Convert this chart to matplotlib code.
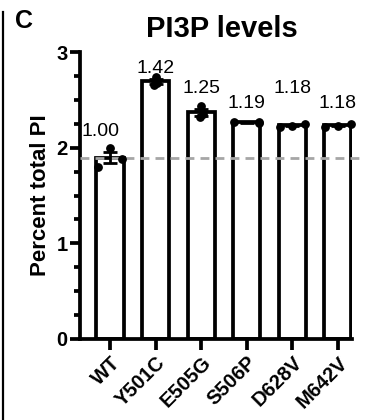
import matplotlib
matplotlib.use("Agg")
import matplotlib.pyplot as plt
import numpy as np
from matplotlib.lines import Line2D
from matplotlib.ticker import MultipleLocator

plt.rcParams['font.family'] = ['Liberation Sans', 'DejaVu Sans']

categories = ["WT", "Y501C", "E505G", "S506P", "D628V", "M642V"]
points = [
    [1.80, 2.00, 1.88],
    [2.66, 2.74, 2.68],
    [2.32, 2.44, 2.35],
    [2.27, 2.26, 2.27],
    [2.22, 2.23, 2.25],
    [2.22, 2.23, 2.25],
]
fold_labels = ["1.00", "1.42", "1.25", "1.19", "1.18", "1.18"]
wt_mean_line = 1.89

fig = plt.figure(figsize=(3.67, 4.2), dpi=100)
ax = fig.add_axes([0.218, 0.193, 0.741, 0.683])

x = np.arange(len(categories))
means = [np.mean(p) for p in points]
sems = [np.std(p, ddof=1) / np.sqrt(len(p)) for p in points]
lw = 2.7
bw = 0.6

ax.bar(x, means, width=bw, color='white', edgecolor='black', linewidth=lw, zorder=2)
ax.errorbar(x, means, yerr=sems, fmt='none', ecolor='black', elinewidth=2.0,
            capsize=5, capthick=2.0, zorder=4)
offsets = [
    [-0.27, 0.0, 0.27],
    [-0.03, 0.0, 0.03],
    [-0.03, 0.0, 0.03],
    [-0.28, 0.28, 0.28],
    [-0.28, 0.0, 0.28],
    [-0.28, 0.0, 0.28],
]
for i, p in enumerate(points):
    ax.scatter(x[i] + np.array(offsets[i]), p, s=28, color='black', zorder=5, clip_on=False)

ax.axhline(wt_mean_line, color='#a6a6a6', linestyle=(0, (3.2, 2.2)), linewidth=2.0, zorder=3,
           xmax=1.03, clip_on=False)

label_y = [2.08, 2.74, 2.53, 2.37, 2.53, 2.37]
label_dx = [-0.2, 0, 0, 0, 0, 0]
for i, t in enumerate(fold_labels):
    ax.text(x[i] + label_dx[i], label_y[i], t, ha='center', va='bottom', fontsize=14,
            clip_on=False)

ax.set_xlim(-0.66, 5.31)
ax.set_ylim(0, 3)
ax.yaxis.set_major_locator(MultipleLocator(1))
ax.yaxis.set_minor_locator(MultipleLocator(0.25))
ax.set_xticks(x)
ax.set_xticklabels(categories, rotation=45, ha='right', rotation_mode='anchor',
                   fontsize=14.5, fontweight='bold')
for lab in ax.get_yticklabels():
    lab.set_fontweight('bold')
ax.tick_params(axis='y', which='major', length=7, width=lw, labelsize=14.5, pad=2)
ax.tick_params(axis='y', which='minor', length=4, width=lw)
ax.tick_params(axis='x', which='major', length=8, width=lw, pad=2)
for s in ['top', 'right']:
    ax.spines[s].set_visible(False)
for s in ['left', 'bottom']:
    ax.spines[s].set_linewidth(lw)

ax.set_ylabel("Percent total PI", fontsize=16, fontweight='bold', labelpad=4)
fig.text(0.605, 0.93, "PI3P levels", ha='center', va='center', fontsize=21, fontweight='bold')
fig.text(0.04, 0.95, "C", ha='left', va='center', fontsize=18, fontweight='bold')

fig.add_artist(Line2D([0.008, 0.008], [0.0, 0.972], color='black', linewidth=1.6,
                      transform=fig.transFigure))

fig.savefig("out.png", dpi=100)
